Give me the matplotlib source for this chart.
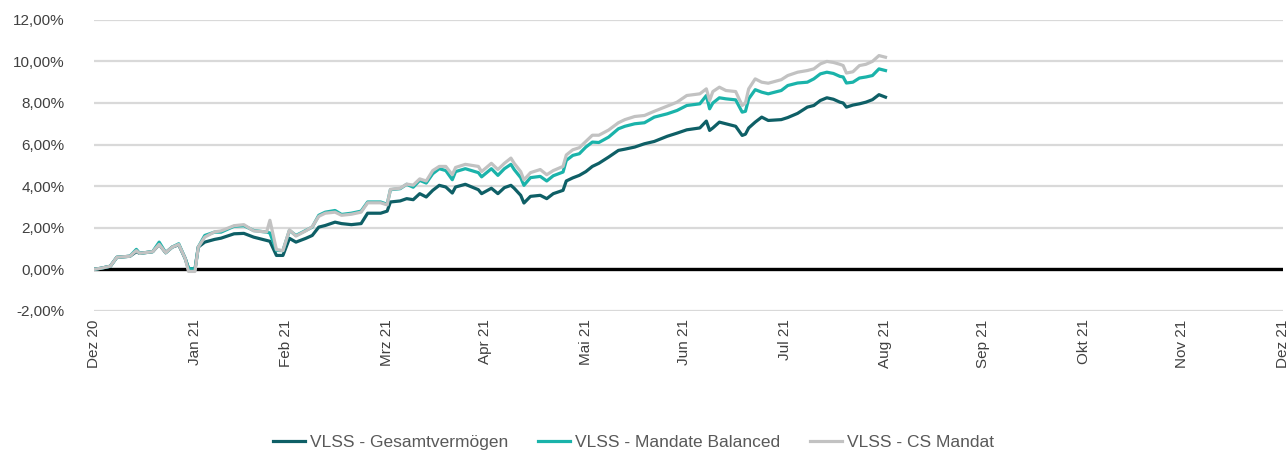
import matplotlib.pyplot as plt
import matplotlib.ticker as mticker
import pandas as pd

plt.rcParams['font.family'] = ['Liberation Sans', 'DejaVu Sans']

dates = [
    "2020-12-31", "2021-01-02", "2021-01-05", "2021-01-07", "2021-01-11", "2021-01-13",
    "2021-01-14", "2021-01-18", "2021-01-20", "2021-01-22", "2021-01-24", "2021-01-26",
    "2021-01-28", "2021-01-29", "2021-01-31", "2021-02-01", "2021-02-03", "2021-02-06",
    "2021-02-08", "2021-02-12", "2021-02-15", "2021-02-18", "2021-02-22", "2021-02-23",
    "2021-02-25", "2021-02-27", "2021-03-01", "2021-03-03", "2021-03-06", "2021-03-08",
    "2021-03-10", "2021-03-12", "2021-03-15", "2021-03-17", "2021-03-20", "2021-03-23",
    "2021-03-25", "2021-03-29", "2021-03-31", "2021-04-01", "2021-04-04", "2021-04-06",
    "2021-04-08", "2021-04-10", "2021-04-12", "2021-04-14", "2021-04-16", "2021-04-18",
    "2021-04-20", "2021-04-21", "2021-04-24", "2021-04-28", "2021-04-29", "2021-05-02",
    "2021-05-04", "2021-05-06", "2021-05-08", "2021-05-09", "2021-05-11", "2021-05-12",
    "2021-05-14", "2021-05-17", "2021-05-19", "2021-05-21", "2021-05-24", "2021-05-25",
    "2021-05-27", "2021-05-29", "2021-05-31", "2021-06-02", "2021-06-04", "2021-06-07",
    "2021-06-10", "2021-06-12", "2021-06-15", "2021-06-18", "2021-06-21", "2021-06-25",
    "2021-06-28", "2021-07-01", "2021-07-05", "2021-07-07", "2021-07-08", "2021-07-09",
    "2021-07-11", "2021-07-13", "2021-07-16", "2021-07-18", "2021-07-19", "2021-07-20",
    "2021-07-22", "2021-07-24", "2021-07-26", "2021-07-30", "2021-08-01", "2021-08-04",
    "2021-08-07", "2021-08-09", "2021-08-11", "2021-08-13", "2021-08-15", "2021-08-17",
    "2021-08-18", "2021-08-19", "2021-08-21", "2021-08-23", "2021-08-25", "2021-08-27",
    "2021-08-29", "2021-08-31",
]

# VLSS - Gesamtvermögen (%)
gesamt = [
    0.00, 0.05, 0.15, 0.58, 0.63, 0.85, 0.77, 0.85, 1.20, 0.80, 1.07, 1.18,
    0.52, 0.05, 0.00, 1.07, 1.31, 1.44, 1.50, 1.71, 1.73, 1.55, 1.39, 1.35,
    0.67, 0.67, 1.49, 1.31, 1.49, 1.63, 2.03, 2.11, 2.27, 2.20, 2.15, 2.20,
    2.70, 2.70, 2.80, 3.24, 3.29, 3.40, 3.35, 3.64, 3.48, 3.80, 4.04, 3.96,
    3.67, 3.96, 4.09, 3.83, 3.64, 3.90, 3.64, 3.93, 4.04, 3.90, 3.56, 3.19,
    3.51, 3.56, 3.40, 3.64, 3.80, 4.25, 4.40, 4.52, 4.70, 4.95, 5.10, 5.40,
    5.72, 5.78, 5.88, 6.04, 6.15, 6.40, 6.55, 6.71, 6.80, 7.13, 6.68, 6.80,
    7.08, 7.00, 6.88, 6.44, 6.50, 6.80, 7.08, 7.32, 7.16, 7.20, 7.30, 7.50,
    7.80, 7.88, 8.12, 8.25, 8.18, 8.04, 8.00, 7.80, 7.90, 7.96, 8.04, 8.16,
    8.40, 8.28,
]

# VLSS - Mandate Balanced (%)
balanced = [
    0.00, 0.05, 0.15, 0.58, 0.63, 0.96, 0.77, 0.85, 1.31, 0.80, 1.07, 1.23,
    0.52, 0.05, 0.00, 1.07, 1.63, 1.79, 1.79, 2.07, 2.10, 1.87, 1.79, 1.75,
    0.91, 0.90, 1.87, 1.63, 1.87, 2.03, 2.60, 2.75, 2.83, 2.64, 2.70, 2.80,
    3.24, 3.24, 3.13, 3.83, 3.88, 4.09, 3.95, 4.28, 4.15, 4.60, 4.84, 4.75,
    4.31, 4.70, 4.84, 4.65, 4.45, 4.84, 4.52, 4.84, 5.05, 4.80, 4.41, 4.04,
    4.41, 4.47, 4.25, 4.50, 4.68, 5.24, 5.48, 5.56, 5.88, 6.12, 6.10, 6.36,
    6.76, 6.88, 7.00, 7.05, 7.32, 7.48, 7.64, 7.88, 7.96, 8.36, 7.72, 8.00,
    8.25, 8.20, 8.15, 7.56, 7.60, 8.20, 8.64, 8.52, 8.44, 8.60, 8.84, 8.96,
    9.00, 9.16, 9.40, 9.48, 9.42, 9.28, 9.25, 8.96, 9.00, 9.20, 9.25, 9.32,
    9.64, 9.56,
]

# VLSS - CS Mandat (%)
cs_mandat = [
    0.00, 0.05, 0.15, 0.58, 0.63, 0.90, 0.77, 0.85, 1.20, 0.80, 1.07, 1.20,
    0.52, -0.10, -0.10, 1.07, 1.55, 1.80, 1.85, 2.10, 2.15, 1.85, 1.80, 2.36,
    0.95, 0.90, 1.90, 1.60, 1.85, 2.05, 2.55, 2.70, 2.75, 2.60, 2.65, 2.75,
    3.20, 3.20, 3.10, 3.85, 3.90, 4.10, 4.05, 4.35, 4.25, 4.75, 4.95, 4.95,
    4.55, 4.90, 5.05, 4.95, 4.70, 5.10, 4.80, 5.10, 5.35, 5.10, 4.70, 4.30,
    4.65, 4.80, 4.55, 4.75, 4.95, 5.50, 5.75, 5.85, 6.15, 6.45, 6.45, 6.70,
    7.05, 7.20, 7.35, 7.40, 7.60, 7.85, 8.04, 8.36, 8.44, 8.68, 8.12, 8.55,
    8.76, 8.60, 8.55, 7.88, 8.00, 8.68, 9.16, 9.00, 8.95, 9.12, 9.32, 9.48,
    9.56, 9.64, 9.88, 10.00, 9.95, 9.86, 9.80, 9.44, 9.50, 9.80, 9.86, 10.00,
    10.28, 10.20,
]

month_ticks = pd.date_range("2020-12-31", "2021-12-31", freq="ME")
month_labels = ["Dez 20", "Jan 21", "Feb 21", "Mrz 21", "Apr 21", "Mai 21", "Jun 21",
                "Jul 21", "Aug 21", "Sep 21", "Okt 21", "Nov 21", "Dez 21"]

x = pd.to_datetime(dates)

fig = plt.figure(figsize=(12.88, 4.5), dpi=100)
ax = fig.add_axes([0.073, 0.309, 0.923, 0.647])

ax.plot(x, gesamt, color="#0e5f66", lw=2.3, label="VLSS - Gesamtvermögen", zorder=3)
ax.plot(x, balanced, color="#1ab3aa", lw=2.3, label="VLSS - Mandate Balanced", zorder=4)
ax.plot(x, cs_mandat, color="#c2c2c2", lw=2.3, label="VLSS - CS Mandat", zorder=5)

ax.axhline(0, color="black", lw=2.4, zorder=2.5)

ax.set_ylim(-2, 12)
ax.set_xlim(month_ticks[0], month_ticks[-1])
ax.set_yticks(range(-2, 13, 2))
ax.yaxis.set_major_formatter(mticker.FuncFormatter(lambda v, p: f"{v:.2f}".replace(".", ",") + "%"))
ax.set_xticks(month_ticks)
ax.set_xticklabels(month_labels, rotation=90)

ax.grid(axis="y", color="#d9d9d9", lw=1.6, zorder=1)
ax.set_axisbelow(True)
for s in ax.spines.values():
    s.set_visible(False)
ax.tick_params(axis="both", length=0, labelsize=11, colors="#404040")
ax.tick_params(axis="y", pad=21)
ax.tick_params(axis="x", pad=6)

leg = fig.legend(loc="lower center", bbox_to_anchor=(0.492, -0.035), ncol=3, frameon=False,
                 fontsize=12.5, handlelength=1.85, columnspacing=1.7, handletextpad=0.3)
for t in leg.get_texts():
    t.set_color("#595959")

fig.savefig("out.png", dpi=100)
